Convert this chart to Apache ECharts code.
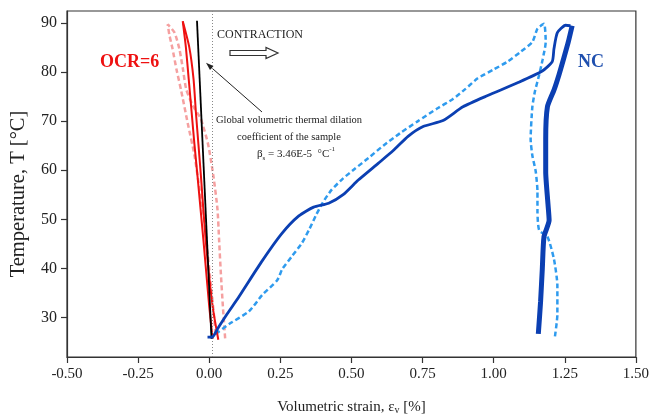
<!DOCTYPE html>
<html>
<head>
<meta charset="utf-8">
<script src="https://cdn.jsdelivr.net/npm/echarts@6/dist/echarts.min.js"></script>
<style>
html,body{margin:0;padding:0;background:#fff;}
#chart{width:652px;height:420px;}
</style>
</head>
<body>
<div id="chart"></div>
<script>
// ---- Data (strain in %, temperature in °C) ----
var xTicks = [-0.5, -0.25, 0, 0.25, 0.5, 0.75, 1.0, 1.25, 1.5];
var yTicks = [30, 40, 50, 60, 70, 80, 90];

// Global volumetric thermal dilation reference line
var betaStrain = [0.008, -0.043];
var betaTemp   = [25.7, 90.4];

// OCR=6 solid red, branch A
var ocrAStrain = [0.012, 0.000, -0.020, -0.041, -0.052, -0.062, -0.072, -0.082, -0.093];
var ocrATemp   = [25.7, 32.3, 45.5, 58.7, 65.3, 71.9, 78.5, 85.0, 90.3];
// OCR=6 solid red, branch B
var ocrBStrain = [-0.093, -0.070, -0.055, -0.047, -0.038, -0.029, -0.012, 0.012, 0.032];
var ocrBTemp   = [90.3, 85.0, 78.5, 71.9, 65.3, 58.7, 45.5, 32.3, 25.5];

// OCR=6 dashed (pink) loop
var ocrDStrain = [0.056, 0.048, 0.041, 0.035, 0.029, 0.015, -0.004, -0.030, -0.058, -0.081, -0.093, -0.105, -0.122, -0.146,
                  -0.140, -0.130, -0.115, -0.099, -0.076, -0.052, -0.035, -0.017, -0.006, 0.006, 0.0175, 0.022];
var ocrDTemp   = [25.8, 32.3, 38.9, 45.5, 52.1, 58.7, 65.3, 70.5, 73.2, 76.5, 80.8, 84.7, 88.0, 89.7,
                  87.5, 85.0, 80.5, 76.3, 69.7, 63.1, 56.5, 49.9, 43.3, 36.6, 30.0, 26.5];

// NC solid heating branch
var ncHStrain = [-0.006, 0.012, 0.03, 0.06, 0.105, 0.182, 0.255, 0.315, 0.367, 0.420, 0.472, 0.524, 0.594, 0.647, 0.699, 0.752, 0.822, 0.892, 0.979, 1.084, 1.171, 1.206, 1.212, 1.224, 1.253, 1.270];
var ncHTemp   = [26.05, 26.1, 27.8, 30.5, 34.3, 41.2, 47.1, 50.7, 52.5, 53.3, 55.1, 58.0, 61.4, 64.0, 66.9, 68.9, 70.1, 72.9, 75.2, 77.8, 80.2, 82.1, 84.7, 88.0, 89.5, 89.4];

// NC solid (thick) cooling branch
var ncCStrain = [1.276, 1.262, 1.247, 1.230, 1.212, 1.189, 1.183, 1.183, 1.191, 1.195, 1.177, 1.171, 1.165, 1.157];
var ncCTemp   = [89.4, 86.0, 82.9, 79.5, 76.3, 72.9, 66.3, 59.7, 53.1, 49.8, 46.5, 39.9, 33.3, 26.7];

// NC dashed (light blue) loop
var ncDStrain = [0.023, 0.07, 0.14, 0.186, 0.239, 0.257, 0.291, 0.326, 0.352, 0.375, 0.400, 0.430, 0.470, 0.510, 0.560, 0.612, 0.670, 0.734, 0.800, 0.857, 0.900, 0.944, 1.000, 1.049, 1.095, 1.136, 1.154, 1.177,
                 1.183, 1.172, 1.160, 1.145, 1.136, 1.130, 1.136, 1.148, 1.154, 1.154, 1.160, 1.189, 1.212, 1.224, 1.224, 1.215];
var ncDTemp   = [26.7, 28.7, 31.3, 34.6, 37.6, 39.9, 42.5, 45.2, 48.0, 50.8, 53.5, 56.0, 58.3, 60.2, 62.5, 65.0, 67.5, 70.0, 72.5, 74.5, 76.5, 78.7, 80.5, 82.1, 84.1, 86.1, 88.8, 89.8,
                 86.1, 82.5, 79.4, 76.0, 72.9, 66.3, 63.0, 59.7, 55.7, 51.7, 47.8, 46.5, 41.9, 36.6, 30.6, 26.0];

var zeroLine = 0.01;

function pairs(xs, ys) { return xs.map(function (x, i) { return [x, ys[i]]; }); }

var FONT = '"Liberation Serif", "Times New Roman", serif';
var chart = echarts.init(document.getElementById('chart'), null, {renderer: 'canvas'});

var lineCol = '#333';

var option = {
  backgroundColor: '#fff',
  animation: false,
  grid: {left: 67, right: 13, top: 11, bottom: 53, show: true, borderColor: lineCol, borderWidth: 1.2, backgroundColor: 'transparent'},
  xAxis: {
    type: 'value', min: -0.5, max: 1.5, interval: 0.25,
    axisLine: {show: true, onZero: false, lineStyle: {color: lineCol, width: 1.2}},
    axisTick: {show: true, inside: false, length: 6, lineStyle: {color: lineCol, width: 1.2}},
    splitLine: {show: false},
    axisLabel: {fontFamily: FONT, fontSize: 15, color: '#222', margin: 10, formatter: function (v) { return v.toFixed(2); }},
    name: '{t|Volumetric strain, ε}{s|v}{t| [%]}',
    nameLocation: 'middle', nameGap: 36,
    nameTextStyle: {rich: {
      t: {fontFamily: FONT, fontSize: 15, color: '#222', lineHeight: 22, verticalAlign: 'bottom'},
      s: {fontFamily: FONT, fontSize: 10, color: '#222', lineHeight: 16, verticalAlign: 'bottom'}
    }}
  },
  yAxis: {
    type: 'value', min: 22, max: 92.4,
    axisLine: {show: true, onZero: false, lineStyle: {color: lineCol, width: 1.2}},
    axisTick: {show: true, inside: false, length: 6, customValues: yTicks, lineStyle: {color: lineCol, width: 1.2}},
    splitLine: {show: false},
    axisLabel: {fontFamily: FONT, fontSize: 16, color: '#222', margin: 10, customValues: yTicks},
    name: 'Temperature, T [°C]',
    nameLocation: 'middle', nameGap: 38, nameRotate: 90,
    nameTextStyle: {fontFamily: FONT, fontSize: 20.5, color: '#222', padding: [0, 20, 0, 0]}
  },
  series: [
    {type: 'line', name: 'OCR dashed', data: pairs(ocrDStrain, ocrDTemp), showSymbol: false, smooth: 0.2,
     lineStyle: {color: '#f5a0a0', width: 2.5, type: [5, 3]}, z: 2,
     markLine: {silent: true, symbol: ['none', 'none'], label: {show: false},
       lineStyle: {color: '#888', width: 1, type: [1, 2]}, data: [{xAxis: zeroLine}]}},
    {type: 'line', name: 'NC dashed', data: pairs(ncDStrain, ncDTemp), showSymbol: false, smooth: 0.2,
     lineStyle: {color: '#2f9bee', width: 2.5, type: [5, 3]}, z: 3},
    {type: 'line', name: 'OCR A', data: pairs(ocrAStrain, ocrATemp), showSymbol: false, smooth: 0.2,
     lineStyle: {color: '#ee1111', width: 2}, z: 4},
    {type: 'line', name: 'OCR B', data: pairs(ocrBStrain, ocrBTemp), showSymbol: false, smooth: 0.2,
     lineStyle: {color: '#ee1111', width: 2}, z: 4},
    {type: 'line', name: 'beta', data: pairs(betaStrain, betaTemp), showSymbol: false,
     lineStyle: {color: '#000', width: 1.8}, z: 5},
    {type: 'line', name: 'NC heating', data: pairs(ncHStrain, ncHTemp), showSymbol: false, smooth: 0.2,
     lineStyle: {color: '#0b3fb2', width: 2.8}, z: 6},
    {type: 'line', name: 'NC cooling', data: pairs(ncCStrain, ncCTemp), showSymbol: false, smooth: 0.2,
     lineStyle: {color: '#0b3fb2', width: 5}, z: 6}
  ],
  graphic: [
    {type: 'text', left: 100, top: 53, style: {text: 'OCR=6', fontFamily: FONT, fontSize: 18, fontWeight: 'bold', fill: '#ee1111'}},
    {type: 'text', left: 578, top: 53, style: {text: 'NC', fontFamily: FONT, fontSize: 18, fontWeight: 'bold', fill: '#1f4fae'}},
    {type: 'text', left: 217, top: 29, style: {text: 'CONTRACTION', fontFamily: FONT, fontSize: 12, fill: '#222'}},
    {type: 'polygon', shape: {points: [[230, 50.5], [266, 50.5], [266, 47.5], [278, 53], [266, 58.5], [266, 55.5], [230, 55.5]]},
     style: {fill: '#fff', stroke: '#333', lineWidth: 1.2}},
    {type: 'line', shape: {x1: 262, y1: 112, x2: 209, y2: 65.5}, style: {stroke: '#222', lineWidth: 1}},
    {type: 'polygon', shape: {points: [[206, 62.7], [213.5, 66], [210, 70]]}, style: {fill: '#222'}},
    {type: 'text', x: 289, y: 120, style: {text: 'Global volumetric thermal dilation', fontFamily: FONT, fontSize: 10.5, fill: '#222', align: 'center', verticalAlign: 'middle'}},
    {type: 'text', x: 289, y: 137, style: {text: 'coefficient of the sample', fontFamily: FONT, fontSize: 10.5, fill: '#222', align: 'center', verticalAlign: 'middle'}},
    {type: 'text', x: 296, y: 154, style: {
      text: '{t|β}{s|s}{t| = 3.46E-5  °C}{p|-1}', align: 'center', verticalAlign: 'middle',
      rich: {
        t: {fontFamily: FONT, fontSize: 11, fill: '#222', lineHeight: 16, verticalAlign: 'middle'},
        s: {fontFamily: FONT, fontSize: 7, fill: '#222', lineHeight: 16, verticalAlign: 'bottom'},
        p: {fontFamily: FONT, fontSize: 7, fill: '#222', lineHeight: 16, verticalAlign: 'top'}
      }}}
  ]
};
chart.setOption(option);
</script>
</body>
</html>
